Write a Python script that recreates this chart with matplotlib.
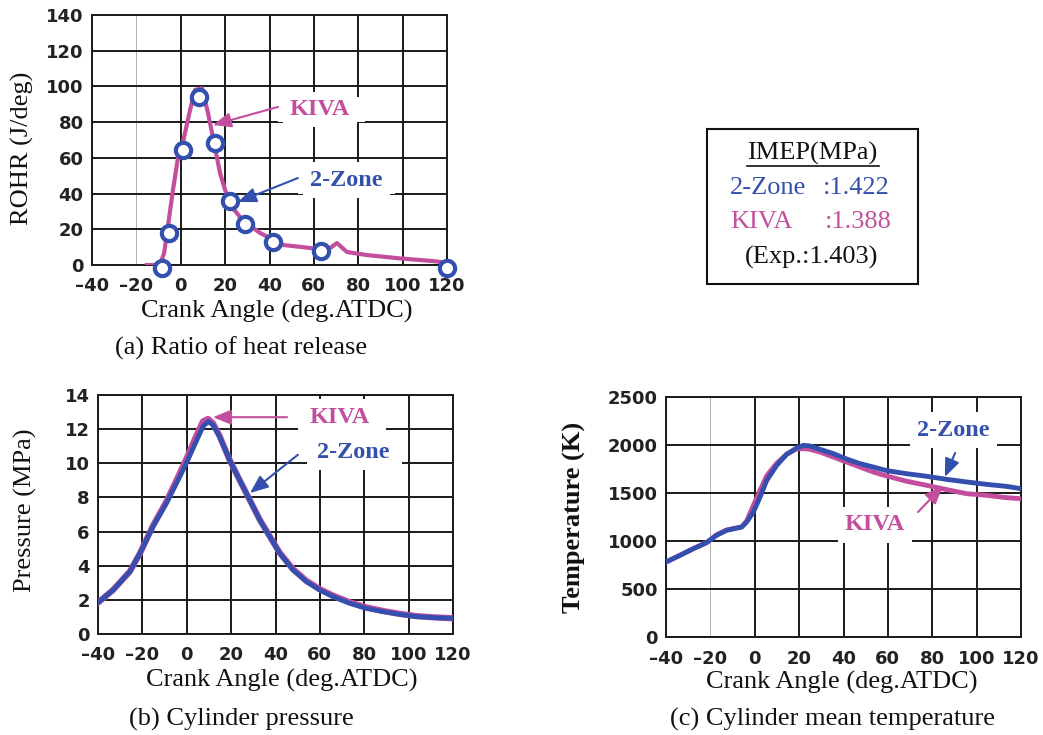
import matplotlib
matplotlib.use("Agg")
import matplotlib.pyplot as plt
from matplotlib.patches import Rectangle

# ---------------- data ----------------
# (a) Rate of heat release
rohr_kiva_ca = [-15.3, -9.4, -7.5, -6.2, -3.5, -1.2, 0.5, 4.2, 6.4, 9.6, 12.3, 15.4, 17.7, 20.0,
                23.0, 28.0, 35.7, 41.7, 46.2, 55.0, 62.7, 67.3, 70.4, 74.9, 83.7, 98.7, 113.7, 120.0]
rohr_kiva = [0.0, 0.0, 6.7, 17.9, 42.0, 60.5, 66.0, 86.8, 98.0, 99.0, 85.0, 66.0, 51.5, 42.0,
             32.5, 25.0, 18.0, 14.0, 11.2, 10.0, 8.8, 9.5, 12.3, 7.3, 5.6, 3.7, 2.2, 1.3]
rohr_2z_ca = [-8.4, -5.5, 1.2, 8.4, 15.5, 22.2, 29.0, 41.7, 63.0, 120.0]
rohr_2z = [-1.9, 17.7, 64.4, 93.9, 68.1, 35.8, 23.0, 13.0, 8.0, -1.5]

# (b) Cylinder pressure
p_ca = [-40, -33.2, -25.7, -21.2, -15.2, -9.2, -3.2, 0.5, 4.3, 7.3, 9.6, 11.8, 14.8, 19.3, 23.9,
        28.4, 32.9, 37.4, 41.9, 47.9, 53.9, 59.9, 65.9, 73.4, 80.9, 88.5, 96.0, 103.5, 111.0, 120.0]
p_2zone = [1.84, 2.58, 3.65, 4.7, 6.3, 7.66, 9.2, 10.2, 11.3, 12.15, 12.45, 12.25, 11.56, 10.2, 9.0,
           7.85, 6.68, 5.7, 4.73, 3.75, 3.07, 2.58, 2.19, 1.8, 1.5, 1.31, 1.15, 1.02, 0.96, 0.92]
p_kiva = [1.84, 2.58, 3.65, 4.7, 6.35, 7.75, 9.4, 10.45, 11.6, 12.45, 12.6, 12.35, 11.6, 10.2, 9.0,
          7.85, 6.7, 5.72, 4.76, 3.8, 3.12, 2.63, 2.25, 1.86, 1.56, 1.35, 1.18, 1.05, 0.98, 0.92]

# (c) Cylinder mean temperature
t_ca = [-40, -33.7, -27.7, -21.7, -17.2, -12.7, -5.9, -3.6, -0.6, 2.4, 5.4, 9.9, 14.4, 18.9, 21.9,
        24.9, 29.4, 35.4, 41.4, 47.4, 53.4, 59.5, 68.5, 77.5, 86.5, 95.5, 104.5, 113.5, 120.0]
t_2zone = [781, 851, 920, 983, 1059, 1111, 1146, 1198, 1302, 1458, 1632, 1788, 1903, 1969, 1997,
           1990, 1955, 1910, 1854, 1806, 1771, 1733, 1701, 1674, 1642, 1615, 1590, 1569, 1545]
t_kiva = [781, 851, 920, 983, 1065, 1115, 1146, 1210, 1371, 1528, 1680, 1810, 1905, 1960, 1962,
          1955, 1927, 1875, 1823, 1771, 1719, 1677, 1622, 1580, 1535, 1493, 1476, 1451, 1441]

x_ticks = [-40, -20, 0, 20, 40, 60, 80, 100, 120]
imep_2zone = "1.422"
imep_kiva = "1.388"
imep_exp = "1.403"

# ---------------- style ----------------
MAG = "#C44E9E"
BLU = "#3450AE"
GRID = "#1a1a1a"
W, H = 1043, 735
SERIF = "Liberation Serif"
TICKFONT = dict(family="DejaVu Sans", weight="bold", size=13)
ARROW = "-|>,head_length=1.1,head_width=0.45"

fig = plt.figure(figsize=(W / 100, H / 100), dpi=100)


def fx(x):
    return x / W


def fy(y):
    return 1 - y / H


def make_ax(l, r, t, b, ylim, yticks, light_m20=True):
    ax = fig.add_axes([fx(l), fy(b), fx(r - l), (b - t) / H])
    ax.set_xlim(-40, 120)
    ax.set_ylim(*ylim)
    ax.set_xticks(x_ticks)
    ax.set_yticks(yticks)
    ax.set_xticklabels([str(v).replace("-", "\u2013") for v in x_ticks], fontdict=TICKFONT, color="#222")
    ax.set_yticklabels([str(v) for v in yticks], fontdict=TICKFONT, color="#222")
    ax.tick_params(axis="y", length=0, pad=6)
    ax.tick_params(axis="x", length=0, pad=9)
    ax.grid(True, color=GRID, lw=1.4)
    for s in ax.spines.values():
        s.set_color(GRID)
        s.set_linewidth(1.4)
    if light_m20:
        gl = ax.get_xgridlines()[1]
        gl.set_color("#b0b0b0")
        gl.set_linewidth(0.7)
    ax.set_axisbelow(True)
    return ax


def label(ax, x, y, s, color, ha="left"):
    ax.text(x, y, s, color=color, fontsize=17.5, fontweight="bold", family=SERIF,
            va="center", ha=ha, zorder=6,
            bbox=dict(boxstyle="square,pad=0.3", fc="white", ec="none"))


def arrow(ax, tail, head, color):
    ax.annotate("", xy=head, xytext=tail,
                arrowprops=dict(arrowstyle=ARROW, color=color, lw=1.5, shrinkA=0, shrinkB=0),
                zorder=7)


def whitebox(ax, x0, x1, y0, y1):
    ax.add_patch(Rectangle((x0, y0), x1 - x0, y1 - y0, fc="white", ec="none", zorder=5))


# (a)
axa = make_ax(92, 447, 15, 265, (0, 140), list(range(0, 141, 20)))
axa.plot(rohr_kiva_ca, rohr_kiva, color=MAG, lw=3.0, zorder=3)
axa.plot(rohr_2z_ca, rohr_2z, ls="none", marker="o", ms=11, mfc="white", mec=BLU, mew=3,
         zorder=4, clip_on=False)
whitebox(axa, 43.8, 83.0, 80.0, 94.0)
label(axa, 49.2, 87.0, "KIVA", MAG)
arrow(axa, (43.8, 88.5), (14.5, 78.4), MAG)
whitebox(axa, 52.8, 96.5, 40.0, 53.0)
label(axa, 58.3, 47.6, "2-Zone", BLU)
arrow(axa, (52.8, 48.7), (25.8, 35.3), BLU)

# (b)
axb = make_ax(98, 453, 395, 634, (0, 14), list(range(0, 15, 2)), light_m20=False)
axb.plot(p_ca, p_kiva, color=MAG, lw=4.5, zorder=3)
axb.plot(p_ca, p_2zone, color=BLU, lw=3.5, zorder=4)
whitebox(axb, 50.0, 90.0, 11.9, 13.5)
label(axb, 55.5, 12.7, "KIVA", MAG)
arrow(axb, (45.2, 12.7), (11.8, 12.7), MAG)
whitebox(axb, 54.0, 97.0, 9.85, 11.5)
label(axb, 58.7, 10.66, "2-Zone", BLU)
arrow(axb, (50.1, 10.5), (28.5, 8.26), BLU)

# (c)
axc = make_ax(666, 1021, 397, 637, (0, 2500), list(range(0, 2501, 500)))
axc.plot(t_ca, t_kiva, color=MAG, lw=3.5, zorder=3)
axc.plot(t_ca, t_2zone, color=BLU, lw=3.5, zorder=4)
label(axc, 89.4, 2156, "2-Zone", BLU, ha="center")
arrow(axc, (90.3, 1917), (85.7, 1667), BLU)
label(axc, 54.2, 1167, "KIVA", MAG, ha="center")
arrow(axc, (73.6, 1302), (84.8, 1573), MAG)

# axis labels and captions (serif)
serif_kw = dict(family=SERIF, fontsize=19, color="#111")
fig.text(fx(277), fy(311), "Crank Angle (deg.ATDC)", ha="center", va="center", **serif_kw)
fig.text(fx(241), fy(348), "(a) Ratio of heat release", ha="center", va="center", **serif_kw)
fig.text(fx(282), fy(680), "Crank Angle (deg.ATDC)", ha="center", va="center", **serif_kw)
fig.text(fx(241), fy(719), "(b) Cylinder pressure", ha="center", va="center", **serif_kw)
fig.text(fx(842), fy(682), "Crank Angle (deg.ATDC)", ha="center", va="center", **serif_kw)
fig.text(fx(833), fy(719), "(c) Cylinder mean temperature", ha="center", va="center", **serif_kw)
fig.text(fx(22), fy(148), "ROHR (J/deg)", rotation=90, ha="center", va="center", **serif_kw)
fig.text(fx(25), fy(510), "Pressure (MPa)", rotation=90, ha="center", va="center", **serif_kw)
fig.text(fx(574), fy(517), "Temperature (K)", rotation=90, ha="center", va="center",
         fontweight="bold", **serif_kw)

# IMEP box
fig.patches.append(Rectangle((fx(707), fy(284)), fx(918 - 707), (284 - 129) / H,
                             transform=fig.transFigure, fill=False, ec="#111", lw=1.5))
box_kw = dict(family=SERIF, fontsize=19, va="center")
fig.text(fx(812), fy(153), "IMEP(MPa)", ha="center", color="#111", **box_kw)
fig.lines.append(plt.Line2D([fx(747), fx(879)], [fy(166), fy(166)], transform=fig.transFigure,
                            color="#111", lw=1.2))
fig.text(fx(730), fy(188), "2-Zone", ha="left", color=BLU, **box_kw)
fig.text(fx(823), fy(188), ":" + imep_2zone, ha="left", color=BLU, **box_kw)
fig.text(fx(730), fy(222), "KIVA", ha="left", color=MAG, **box_kw)
fig.text(fx(825), fy(222), ":" + imep_kiva, ha="left", color=MAG, **box_kw)
fig.text(fx(812), fy(257), "(Exp.:" + imep_exp + ")", ha="center", color="#111", **box_kw)

fig.savefig("out.png", dpi=100)
